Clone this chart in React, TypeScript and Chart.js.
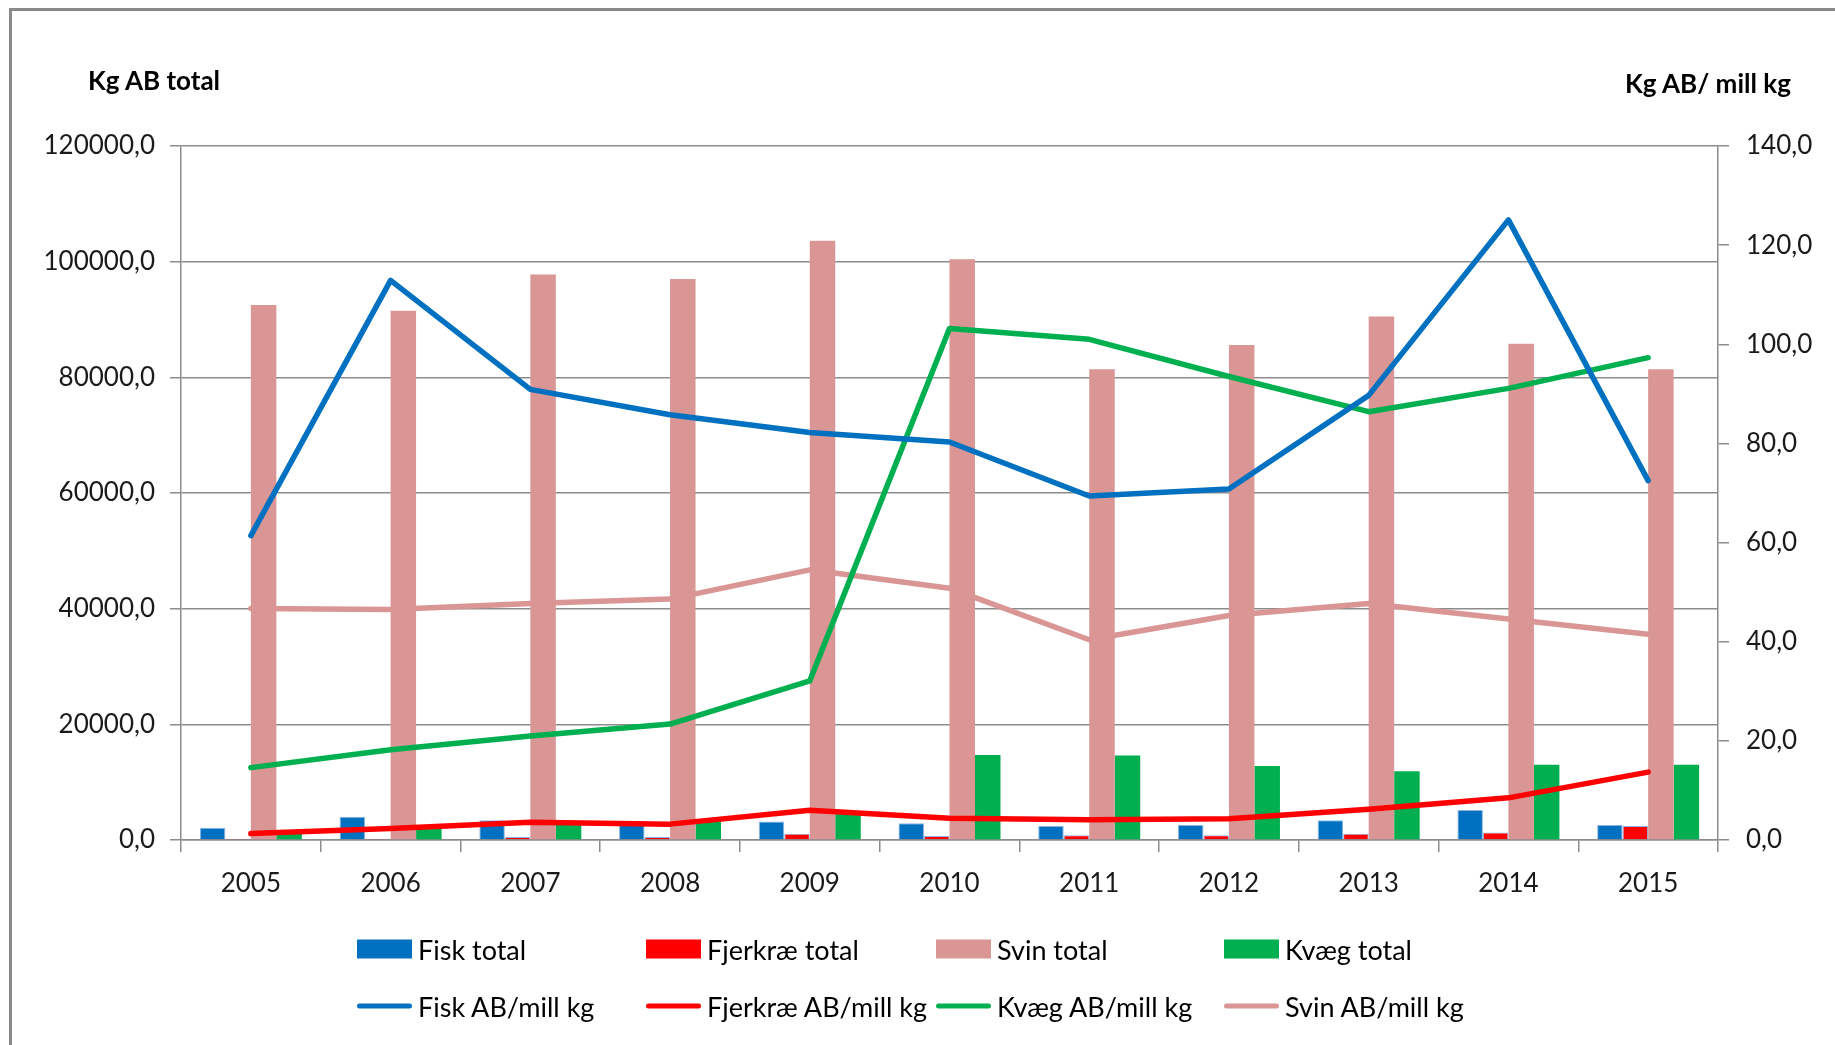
import React, { useEffect, useRef } from "react";
import { Chart, registerables } from "chart.js";

Chart.register(...registerables);

const years = ["2005", "2006", "2007", "2008", "2009", "2010", "2011", "2012", "2013", "2014", "2015"];

const fiskTotal = [2100, 4000, 3400, 2800, 3200, 2900, 2400, 2600, 3400, 5200, 2600];
const fjerkraeTotal = [200, 200, 500, 500, 1100, 700, 800, 800, 1100, 1300, 2400];
const svinTotal = [92500, 91500, 97800, 97000, 103600, 100400, 81400, 85600, 90500, 85800, 81400];
const kvaegTotal = [1700, 2000, 3100, 3200, 4600, 14700, 14600, 12800, 11900, 13000, 13000];

const fiskAB = [61.4, 112.9, 90.9, 85.8, 82.2, 80.3, 69.4, 70.8, 89.7, 125.1, 72.5];
const fjerkraeAB = [1.3, 2.3, 3.6, 3.2, 6.0, 4.4, 4.1, 4.3, 6.2, 8.5, 13.7];
const kvaegAB = [14.6, 18.2, 21.0, 23.4, 32.1, 103.2, 101.0, 93.5, 86.4, 91.1, 97.3];
const svinAB = [46.7, 46.5, 47.7, 48.6, 54.5, 50.8, 40.4, 45.3, 47.7, 44.6, 41.5];

const leftTicksMax = 120000;
const leftStep = 20000;
const rightTicksMax = 140;
const rightStep = 20;

const BLUE = "#0070C0";
const RED = "#FF0000";
const PINK = "#D99694";
const GREEN = "#00B050";
const GRID = "#8c8c8c";
const TEXT = "#1a1a1a";
const FONT = "Lato, 'Open Sans', sans-serif";

const barLegend = [
  { label: "Fisk total", color: BLUE },
  { label: "Fjerkræ total", color: RED },
  { label: "Svin total", color: PINK },
  { label: "Kvæg total", color: GREEN },
];
const lineLegend = [
  { label: "Fisk AB/mill kg", color: BLUE },
  { label: "Fjerkræ AB/mill kg", color: RED },
  { label: "Kvæg AB/mill kg", color: GREEN },
  { label: "Svin AB/mill kg", color: PINK },
];

const fmt = (v: number) => v.toFixed(1).replace(".", ",");

export default function App() {
  const ref = useRef<HTMLCanvasElement | null>(null);

  useEffect(() => {
    if (!ref.current) return;
    const lineDs = (label: string, data: number[], color: string) => ({
      type: "line" as const,
      label,
      data,
      yAxisID: "y1",
      borderColor: color,
      backgroundColor: color,
      borderWidth: 5.5,
      pointRadius: 0,
      borderJoinStyle: "round" as const,
      borderCapStyle: "round" as const,
      tension: 0,
      order: 0,
    });
    const barDs = (label: string, data: number[], color: string, border?: string) => ({
      type: "bar" as const,
      label,
      data,
      yAxisID: "y",
      backgroundColor: color,
      borderColor: border || color,
      borderWidth: border ? 1 : 0,
      categoryPercentage: 0.73,
      barPercentage: 1.0,
      order: 1,
    });
    const chart = new Chart(ref.current, {
      type: "bar",
      data: {
        labels: years,
        datasets: [
          barDs("Fisk total", fiskTotal, BLUE, "#8EB4E3"),
          barDs("Fjerkræ total", fjerkraeTotal, RED, "#8EB4E3"),
          barDs("Svin total", svinTotal, PINK),
          barDs("Kvæg total", kvaegTotal, GREEN),
          lineDs("Fisk AB/mill kg", fiskAB, BLUE),
          lineDs("Fjerkræ AB/mill kg", fjerkraeAB, RED),
          lineDs("Kvæg AB/mill kg", kvaegAB, GREEN),
          lineDs("Svin AB/mill kg", svinAB, PINK),
        ] as any,
      },
      options: {
        animation: false,
        responsive: false,
        maintainAspectRatio: false,
        layout: { padding: { top: 146, left: 0, right: 0, bottom: 0 } },
        plugins: {
          legend: { display: false },
          tooltip: { enabled: false },
        },
        scales: {
          x: {
            grid: {
              display: true,
              drawOnChartArea: false,
              drawTicks: true,
              tickLength: 12,
              color: GRID,
              lineWidth: 1.5,
              offset: true,
            },
            border: { color: GRID, width: 1.5 },
            ticks: { color: TEXT, font: { family: FONT, size: 26 }, padding: 16 },
            afterFit: (s: any) => {
              s.height = 1045 - 840;
            },
          },
          y: {
            position: "left",
            min: 0,
            max: leftTicksMax,
            grid: { color: GRID, lineWidth: 1.5, tickLength: 11 },
            border: { color: GRID, width: 1.5 },
            ticks: {
              stepSize: leftStep,
              color: TEXT,
              font: { family: FONT, size: 26 },
              padding: 15,
              callback: (v: any) => fmt(Number(v)),
            },
            afterFit: (s: any) => {
              s.width = 181;
            },
          },
          y1: {
            position: "right",
            min: 0,
            max: rightTicksMax,
            grid: { drawOnChartArea: false, color: GRID, lineWidth: 1.5, tickLength: 11 },
            border: { color: GRID, width: 1.5 },
            ticks: {
              stepSize: rightStep,
              color: TEXT,
              font: { family: FONT, size: 26 },
              padding: 17,
              callback: (v: any) => fmt(Number(v)),
            },
            afterFit: (s: any) => {
              s.width = 1835 - 1718;
            },
          },
        },
      } as any,
    });
    return () => chart.destroy();
  }, []);

  const legendXs = [357, 646, 936, 1224];

  return (
    <div
      style={{
        position: "fixed",
        left: 0,
        top: 0,
        width: 1835,
        height: 1045,
        background: "#fff",
        overflow: "hidden",
        fontFamily: FONT,
      }}
    >
      <div
        style={{
          position: "absolute",
          left: 9,
          top: 8,
          width: 1835,
          height: 1100,
          border: "3px solid #8a8a8a",
          boxSizing: "border-box",
        }}
      />
      <canvas
        ref={ref}
        width={1835}
        height={1045}
        style={{ position: "absolute", left: 0, top: 0, width: 1835, height: 1045 }}
      />
      <div
        style={{
          position: "absolute",
          left: 88,
          top: 80,
          transform: "translateY(-50%)",
          fontWeight: 700,
          fontSize: 26,
          color: "#000",
          whiteSpace: "nowrap",
        }}
      >
        Kg AB total
      </div>
      <div
        style={{
          position: "absolute",
          left: 1625,
          top: 83,
          transform: "translateY(-50%)",
          fontWeight: 700,
          fontSize: 26,
          color: "#000",
          whiteSpace: "nowrap",
        }}
      >
        Kg AB/ mill kg
      </div>
      {barLegend.map((it, i) => (
        <div
          key={"b" + i}
          style={{
            position: "absolute",
            left: legendXs[i],
            top: 949,
            transform: "translateY(-50%)",
            display: "flex",
            alignItems: "center",
            whiteSpace: "nowrap",
          }}
        >
          <span style={{ display: "inline-block", width: 55, height: 19, background: it.color, marginRight: 6 }} />
          <span style={{ fontSize: 27, color: "#000" }}>{it.label}</span>
        </div>
      ))}
      {lineLegend.map((it, i) => (
        <div
          key={"l" + i}
          style={{
            position: "absolute",
            left: legendXs[i],
            top: 1006,
            transform: "translateY(-50%)",
            display: "flex",
            alignItems: "center",
            whiteSpace: "nowrap",
          }}
        >
          <span
            style={{
              display: "inline-block",
              width: 55,
              height: 5,
              borderRadius: 3,
              background: it.color,
              marginRight: 6,
            }}
          />
          <span style={{ fontSize: 27, color: "#000" }}>{it.label}</span>
        </div>
      ))}
    </div>
  );
}
